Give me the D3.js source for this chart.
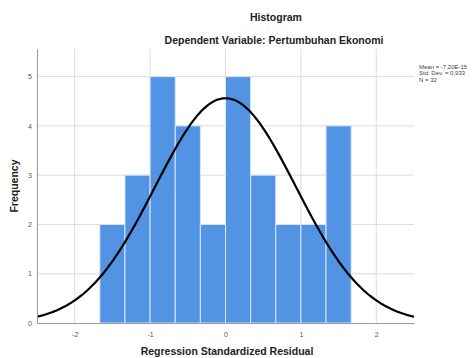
<!DOCTYPE html>
<html>
<head>
<meta charset="utf-8">
<script src="https://cdn.jsdelivr.net/npm/d3@7"></script>
<style>
  body { margin: 0; background: #fff; }
  text { font-family: "Liberation Sans", Arial, sans-serif; }
</style>
</head>
<body>
<svg id="chart" width="474" height="358"></svg>
<script>
// histogram bins (edges) and counts
var binEdges = [-5/3, -4/3, -1, -2/3, -1/3, 0, 1/3, 2/3, 1, 4/3, 5/3];
var counts = [2, 3, 5, 4, 2, 5, 3, 2, 2, 4];
var xTicks = [-2, -1, 0, 1, 2];
var yTicks = [0, 1, 2, 3, 4, 5];
var statLines = ["Mean = -7,20E-15", "Std. Dev. = 0,933", "N = 32"];
var mean = 0, sd = 0.933, n = 32;

var svg = d3.select("#chart");
var margin = {top: 49, right: 60, bottom: 35, left: 37};

var x = d3.scaleLinear().domain([-2.5, 2.5]).range([0, 377]);
var y = d3.scaleLinear().domain([0, 5.56]).range([274, 0]);

var g = svg.append("g")
    .attr("transform", "translate(" + margin.left + "," + margin.top + ")");

// grid
g.selectAll(".vgrid").data(xTicks).enter().append("line")
    .attr("class", "vgrid")
    .attr("x1", function(d){ return x(d); }).attr("x2", function(d){ return x(d); })
    .attr("y1", 0).attr("y2", y(0))
    .attr("stroke", "#dcdcdc").attr("stroke-width", 1);
g.selectAll(".hgrid").data(yTicks.slice(1)).enter().append("line")
    .attr("class", "hgrid")
    .attr("x1", 0).attr("x2", x(2.5))
    .attr("y1", function(d){ return y(d); }).attr("y2", function(d){ return y(d); })
    .attr("stroke", "#dcdcdc").attr("stroke-width", 1);

// bars
var bins = counts.map(function(c, i){ return {x0: binEdges[i], x1: binEdges[i+1], count: c}; });
g.selectAll(".bar").data(bins).enter().append("rect")
    .attr("class", "bar")
    .attr("x", function(d){ return x(d.x0); })
    .attr("width", function(d){ return x(d.x1) - x(d.x0); })
    .attr("y", function(d){ return y(d.count); })
    .attr("height", function(d){ return y(0) - y(d.count); })
    .attr("fill", "#5393e3")
    .attr("stroke", "#d8e6f7").attr("stroke-width", 1);

// normal curve from mean / sd / N
var binW = binEdges[1] - binEdges[0];
var curvePts = d3.range(-2.5, 2.5001, 0.02).map(function(v){
    var z = (v - mean) / sd;
    return [v, n * binW * Math.exp(-0.5 * z * z) / (sd * Math.sqrt(2 * Math.PI))];
});
g.append("path")
    .datum(curvePts)
    .attr("fill", "none")
    .attr("stroke", "#000")
    .attr("stroke-width", 2.2)
    .attr("d", d3.line().x(function(d){ return x(d[0]); }).y(function(d){ return y(d[1]); }).curve(d3.curveBasis));

// axes
var fmt = function(d){ return String(d); };
var xAxis = g.append("g")
    .attr("transform", "translate(0," + y(0) + ")")
    .call(d3.axisBottom(x).tickValues(xTicks).tickFormat(fmt).tickSize(0).tickPadding(9));
var yAxis = g.append("g")
    .call(d3.axisLeft(y).tickValues(yTicks).tickFormat(fmt).tickSize(0).tickPadding(5));
[xAxis, yAxis].forEach(function(a){
    a.select(".domain").attr("stroke", "#9a9a9a");
    a.selectAll("text").attr("fill", "#555").attr("font-size", "7px")
        .style("font-family", "Liberation Sans, Arial, sans-serif");
});

// titles
svg.append("text").attr("x", 276).attr("y", 21).attr("text-anchor", "middle")
    .attr("font-size", "10.5px").attr("font-weight", "bold").attr("fill", "#222")
    .text("Histogram");
svg.append("text").attr("x", 274).attr("y", 44).attr("text-anchor", "middle")
    .attr("font-size", "10.5px").attr("font-weight", "bold").attr("fill", "#222")
    .text("Dependent Variable: Pertumbuhan Ekonomi");
svg.append("text").attr("x", 227).attr("y", 355).attr("text-anchor", "middle")
    .attr("font-size", "10.5px").attr("font-weight", "bold").attr("fill", "#222")
    .text("Regression Standardized Residual");
svg.append("text")
    .attr("transform", "translate(18,186) rotate(-90)")
    .attr("text-anchor", "middle")
    .attr("font-size", "10.5px").attr("font-weight", "bold").attr("fill", "#222")
    .text("Frequency");

// stats box
svg.append("g").selectAll("text").data(statLines).enter().append("text")
    .attr("x", 419).attr("y", function(d, i){ return 69 + i * 6.3; })
    .attr("font-size", "6px").attr("fill", "#444")
    .text(function(d){ return d; });
</script>
</body>
</html>
